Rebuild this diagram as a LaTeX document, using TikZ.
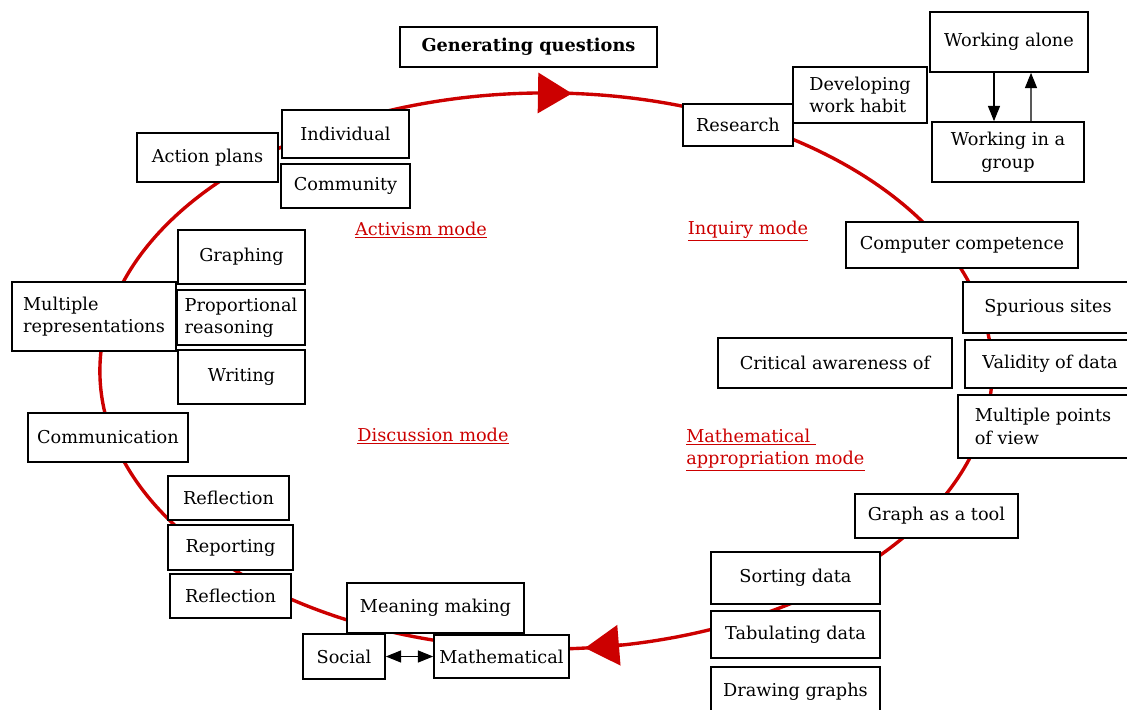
\documentclass[tikz,border=0pt]{standalone}
\usepackage{fontspec}
\setmainfont{DejaVu Serif}
\usetikzlibrary{arrows.meta,positioning}
\definecolor{modered}{RGB}{204,0,0}
\newcommand{\boxfont}{\fontsize{12.6}{16}\selectfont}

\begin{document}
\begin{tikzpicture}[x=0.025cm,y=-0.025cm,>={Triangle[length=0.38cm,width=0.3cm]},node distance=0.1cm,
  box/.style={draw,fill=white,line width=1.2pt,inner sep=0pt,align=center,font=\boxfont},
  mode/.style={text=modered,font=\boxfont,inner sep=0pt,align=left},
  ring/.style={draw=modered,line width=2.4pt},
  bigtip/.style={modered,line width=2.4pt,-{Triangle[length=0.85cm,width=1cm]}}]
\useasboundingbox (0,0) rectangle (1127,710);
\clip (0,0) rectangle (1127,710);

% the cycle of modes
\draw[ring] (546,371) ellipse [x radius=11.15cm, y radius=6.95cm];
\draw[bigtip] (540,93) -- (572,93.5);
\draw[bigtip] (622,645) -- (585,648);

\node[box,font=\boxfont\bfseries,minimum width=6.425cm,minimum height=1cm] (questions) at (528.5,47) {Generating questions};

% inquiry
\node[box,minimum width=3.95cm,minimum height=1.5cm] (alone) at (1009,42) {Working alone};
\node[box,minimum width=3.8cm,minimum height=1.5cm] (group) at (1008,152) {Working in a\\group};
\node[box,minimum width=3.35cm,minimum height=1.4cm,align=left] (habit) at (860,95) {Developing\\work habit};
\node[box,minimum width=2.75cm,minimum height=1.05cm] (research) at (738,125) {Research};
\node[box,minimum width=5.8cm,minimum height=1.15cm] (computer) at (962,245) {Computer competence};
\node[box,minimum width=4.25cm,minimum height=1.275cm] (spurious) at (1048,307.5) {Spurious sites};
\node[box,minimum width=4.25cm,minimum height=1.2cm] (validity) at (1050,364) {Validity of data};
\node[box,minimum width=4.25cm,minimum height=1.575cm,align=left] (points) at (1043,426.5) {Multiple points\\of view};
\node[box,minimum width=5.85cm,minimum height=1.25cm] (critical) at (835,363) {Critical awareness of};

% mathematical appropriation
\node[box,minimum width=4.075cm,minimum height=1.1cm] (graphtool) at (936.5,516) {Graph as a tool};
\node[box,minimum width=4.225cm,minimum height=1.3cm] (sorting) at (795.5,578) {Sorting data};
\node[box,minimum width=4.225cm,minimum height=1.175cm] (tabulating) at (795.5,634.5) {Tabulating data};
\node[box,minimum width=4.225cm,minimum height=1.25cm] (drawing) at (795.5,692) {Drawing graphs};
\node[box,minimum width=4.425cm,minimum height=1.25cm] (meaning) at (435.5,608) {Meaning making};
\node[box,minimum width=2.05cm,minimum height=1.125cm] (social) at (344,656.5) {Social};
\node[box,minimum width=3.375cm,minimum height=1.075cm] (mathematical) at (501.5,656.5) {Mathematical};

% discussion
\node[box,minimum width=4cm,minimum height=1.225cm] (communication) at (108,437.5) {Communication};
\node[box,minimum width=3.025cm,minimum height=1.1cm] (reflectiona) at (228.5,498) {Reflection};
\node[box,minimum width=3.125cm,minimum height=1.125cm] (reporting) at (230.5,547.5) {Reporting};
\node[box,minimum width=3.025cm,minimum height=1.1cm] (reflectionb) at (230.5,596) {Reflection};
\node[box,minimum width=4.1cm,minimum height=1.725cm,align=left] (representations) at (94,316.5) {Multiple\\representations};
\node[box,minimum width=3.175cm,minimum height=1.35cm] (graphing) at (241.5,257) {Graphing};
\node[box,minimum width=3.2cm,minimum height=1.375cm,align=left] (proportional) at (241,317.5) {Proportional\\reasoning};
\node[box,minimum width=3.175cm,minimum height=1.35cm] (writing) at (241.5,377) {Writing};

% activism
\node[box,minimum width=3.525cm,minimum height=1.225cm] (action) at (207.5,157.5) {Action plans};
\node[box,minimum width=3.175cm,minimum height=1.2cm] (individual) at (345.5,134) {Individual};
\node[box,minimum width=3.225cm,minimum height=1.1cm,below=of individual] (community) {Community};

\node[mode] (activism) at (421,230) {\underline{Activism mode}};
\node[mode] (inquiry) at (748,231) {\underline{Inquiry mode}};
\node[mode] (discussion) at (433,436) {\underline{Discussion mode}};
\node[mode,anchor=west] (appropriation) at (686,450) {\underline{Mathematical }\\\underline{appropriation mode}};

\draw[->,line width=0.8pt] ([xshift=-0.375cm]alone.south) -- ([xshift=-0.35cm]group.north);
\draw[<-,line width=0.8pt] ([xshift=0.55cm]alone.south) -- ([xshift=0.575cm]group.north);
\draw[<->,line width=0.8pt] (social) -- (mathematical);
\end{tikzpicture}
\end{document}
